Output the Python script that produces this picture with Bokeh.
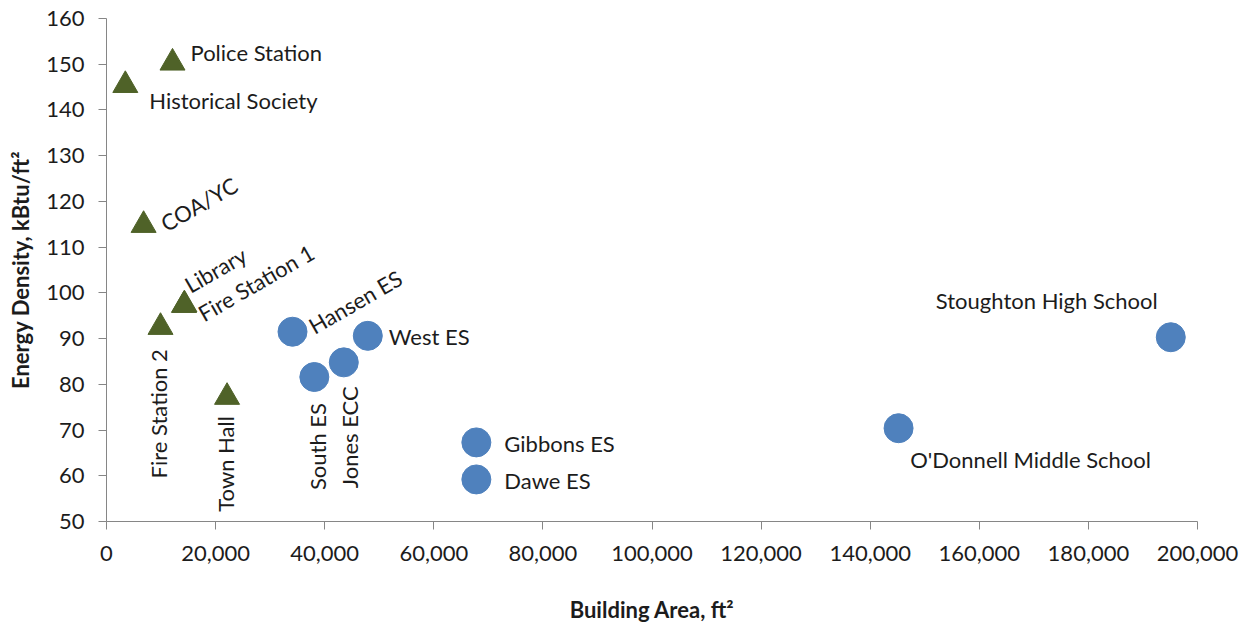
import math
from bokeh.plotting import figure
from bokeh.models import ColumnDataSource, Range1d, FixedTicker, NumeralTickFormatter
from bokeh.core.properties import value
from bokeh.embed import file_html
from bokeh.resources import INLINE

# ---- data -------------------------------------------------------------
# Municipal buildings (green triangles)
muni_names = ["Police Station", "Historical Society", "COA/YC", "Library",
              "Fire Station 1", "Fire Station 2", "Town Hall"]
muni_area = [12100, 3450, 6800, 14300, 14200, 9900, 22100]
muni_eui = [150.3, 145.4, 114.8, 97.4, 97.3, 92.5, 77.2]

# Schools (blue circles)
school_names = ["Hansen ES", "South ES", "Jones ECC", "West ES", "Gibbons ES",
                "Dawe ES", "O'Donnell Middle School", "Stoughton High School"]
school_area = [34100, 38100, 43500, 47900, 67800, 67800, 145200, 195100]
school_eui = [91.5, 81.6, 84.8, 90.6, 67.3, 59.2, 70.4, 90.3]

x_ticks = list(range(0, 200001, 20000))
y_ticks = list(range(50, 161, 10))
x_title = "Building Area, ft²"
y_title = "Energy Density, kBtu/ft²"

# ---- styles -----------------------------------------------------------
FONT = "Lato"
TXT = "#1c1c1c"
AXIS = "#868686"
GREEN = "#4F6228"
BLUE = "#4F81BD"
LBL_SIZE = "22px"

# label placement: dx, dy (screen px), angle (deg), align, baseline
LABEL_STYLE = {
    "Police Station": (18, -10, 0, "left", "middle"),
    "Historical Society": (24, 15, 0, "left", "middle"),
    "COA/YC": (19, 0, 30, "left", "alphabetic"),
    "Library": (2, -18, 30, "left", "alphabetic"),
    "Fire Station 1": (16, 10, 30, "left", "alphabetic"),
    "Fire Station 2": (-2, 22, 90, "right", "middle"),
    "Town Hall": (-2, 19, 90, "right", "middle"),
    "Hansen ES": (18, -4, 30, "left", "alphabetic"),
    "South ES": (3, 26, 90, "right", "middle"),
    "Jones ECC": (6, 24, 90, "right", "middle"),
    "West ES": (21, 1, 0, "left", "middle"),
    "Gibbons ES": (28, 1, 0, "left", "middle"),
    "Dawe ES": (28, 1, 0, "left", "middle"),
    "O'Donnell Middle School": (132, 31, 0, "center", "middle"),
    "Stoughton High School": (-124, -37, 0, "center", "middle"),
}

p = figure(width=1249, height=626, output_backend="svg", toolbar_location=None,
           x_range=Range1d(x_ticks[0], x_ticks[-1]), y_range=Range1d(y_ticks[0], y_ticks[-1]),
           min_border_left=106, min_border_right=52, min_border_top=18, min_border_bottom=105)
p.outline_line_color = None
p.xgrid.visible = False
p.ygrid.visible = False
p.background_fill_color = "white"
p.border_fill_color = "white"

for ax in (p.xaxis[0], p.yaxis[0]):
    ax.axis_line_color = AXIS
    ax.major_tick_line_color = AXIS
    ax.minor_tick_line_color = None
    ax.major_tick_in = 0
    ax.major_tick_out = 8
    ax.major_label_text_font = FONT
    ax.major_label_text_font_size = "22px"
    ax.major_label_text_color = TXT
    ax.axis_label_text_font = FONT
    ax.axis_label_text_font_size = "22px"
    ax.axis_label_text_font_style = "bold"
    ax.axis_label_text_color = TXT

p.xaxis.ticker = FixedTicker(ticks=x_ticks)
p.yaxis.ticker = FixedTicker(ticks=y_ticks)
p.xaxis.formatter = NumeralTickFormatter(format="0,0")
p.yaxis.formatter = NumeralTickFormatter(format="0")
p.xaxis.axis_label = x_title
p.yaxis.axis_label = y_title
p.xaxis.major_label_standoff = 16
p.yaxis.major_label_standoff = 14
p.xaxis.axis_label_standoff = 32
p.yaxis.axis_label_standoff = 9

muni_src = ColumnDataSource(dict(x=muni_area, y=muni_eui, name=muni_names))
school_src = ColumnDataSource(dict(x=school_area, y=school_eui, name=school_names))

p.scatter(x="x", y="y", source=muni_src, marker="triangle", size=25,
          fill_color=GREEN, line_color=GREEN, line_width=1)
p.scatter(x="x", y="y", source=school_src, marker="circle", size=29,
          fill_color=BLUE, line_color=BLUE, line_width=1)

for names, xs, ys in ((muni_names, muni_area, muni_eui),
                      (school_names, school_area, school_eui)):
    for n, xv, yv in zip(names, xs, ys):
        dx, dy, ang, al, bl = LABEL_STYLE[n]
        src = ColumnDataSource(dict(x=[xv], y=[yv], t=[n]))
        p.text(x="x", y="y", text="t", source=src, x_offset=dx, y_offset=dy,
               angle=math.radians(ang), text_align=al, text_baseline=bl,
               text_font=value(FONT), text_font_size=LBL_SIZE, text_color=TXT)

open("out.html", "w").write(file_html(p, INLINE))
